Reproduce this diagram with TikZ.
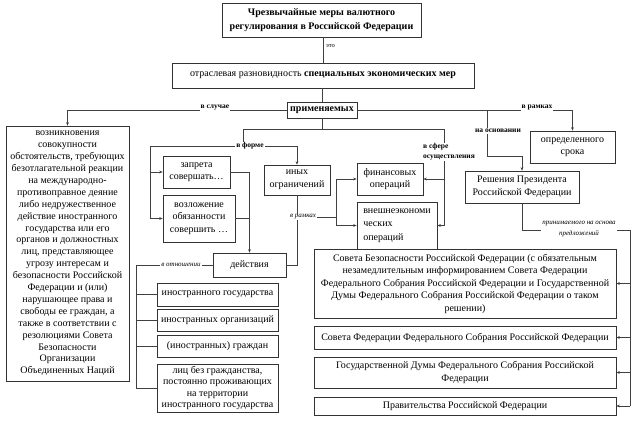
\documentclass[tikz,border=0pt]{standalone}
\usepackage{fontspec}
\setmainfont{Liberation Serif}
\usetikzlibrary{arrows.meta}
\begin{document}
\begin{tikzpicture}[x=1pt,y=-1pt,
  box/.style={draw=black!80, line width=0.6pt, inner sep=1pt, align=center, font=\fontsize{10}{12.5}\selectfont},
  conn/.style={draw=black!75, line width=0.6pt},
  arr/.style={conn, -{Stealth[length=3.5pt,width=2.8pt]}},
  lbl/.style={fill=white, inner sep=1pt, font=\fontsize{7.5}{10}\selectfont\bfseries},
  ilbl/.style={fill=white, inner sep=1pt, font=\fontsize{7}{11.5}\selectfont\itshape},
]
\useasboundingbox (0,0) rectangle (637,426);

% boxes
\node[box, font=\fontsize{10}{14}\selectfont\bfseries, minimum width=199pt, minimum height=34pt] (title) at (321.5,20) {Чрезвычайные меры валютного\\регулирования в Российской Федерации};
\node[box, minimum width=302pt, minimum height=25pt] (kind) at (323,75.5) {отраслевая разновидность \textbf{специальных экономических мер}};
\node[box, font=\fontsize{10}{12}\selectfont\bfseries, minimum width=70pt, minimum height=16pt] (prim) at (322,110) {применяемых};
\node[box, font=\fontsize{10}{11.9}\selectfont, minimum width=123pt, minimum height=255pt] (cond) at (67.5,253.5) {возникновения\\совокупности\\обстоятельств, требующих\\безотлагательной реакции\\на международно-\\противоправное деяние\\либо недружественное\\действие иностранного\\государства или его\\органов и должностных\\лиц, представляющее\\угрозу интересам и\\безопасности Российской\\Федерации и (или)\\нарушающее права и\\свободы ее граждан, а\\также в соответствии с\\резолюциями Совета\\Безопасности\\Организации\\Объединенных Наций};
\node[box, minimum width=67pt, minimum height=32pt] (zapr) at (196.5,172) {запрета\\совершать…};
\node[box, minimum width=72pt, minimum height=47pt] (vozl) at (199,218.5) {возложение\\обязанности\\совершить …};
\node[box, minimum width=66pt, minimum height=30pt] (inykh) at (297,180) {иных\\ограничений};
\node[box, minimum width=73pt, minimum height=24pt] (deistv) at (249.5,265) {действия};
\node[box, minimum width=66pt, minimum height=32pt] (fin) at (390,179) {финансовых\\операций};
\node[box, font=\fontsize{10}{13.5}\selectfont, align=left, minimum width=80pt, minimum height=47pt] (vnesh) at (397,225.5) {внешнеэкономи\\ческих\\операций};
\node[box, minimum width=85pt, minimum height=32pt] (srok) at (572.5,147) {определенного\\срока};
\node[box, minimum width=114pt, minimum height=32pt] (presid) at (522,187) {Решения Президента\\Российской Федерации};
\node[box, minimum width=302pt, minimum height=69pt] (sb) at (465,283.5) {Совета Безопасности Российской Федерации (с обязательным\\незамедлительным информированием Совета Федерации\\Федерального Собрания Российской Федерации и Государственной\\Думы Федерального Собрания Российской Федерации о таком\\решении)};
\node[box, minimum width=302pt, minimum height=23pt] (sf) at (465,337.5) {Совета Федерации Федерального Собрания Российской Федерации};
\node[box, minimum width=302pt, minimum height=31pt] (gd) at (465,372.5) {Государственной Думы Федерального Собрания Российской\\Федерации};
\node[box, minimum width=302pt, minimum height=18pt] (prav) at (465,406) {Правительства Российской Федерации};
\node[box, minimum width=121pt, minimum height=23pt] (ig) at (217.5,294.5) {иностранного государства};
\node[box, minimum width=121pt, minimum height=22pt] (io) at (217.5,320) {иностранных организаций};
\node[box, minimum width=121pt, minimum height=22pt] (gr) at (217.5,346) {(иностранных) граждан};
\node[box, font=\fontsize{10}{11.5}\selectfont, minimum width=121pt, minimum height=48pt] (lbg) at (217.5,388) {лиц без гражданства,\\постоянно проживающих\\на территории\\иностранного государства};

% coordinates
\coordinate (jOsn) at (487,110);
\coordinate (jOsn2) at (487,156);
\coordinate (hL) at (243,129);
\coordinate (hR) at (444,129);
\coordinate (fL) at (150,146);
\coordinate (rB) at (336,217);
\coordinate (oL) at (136,265);
\coordinate (pR) at (630,230);

% connectors
\draw[conn] (title.south -| kind.north) -- (kind.north);
\draw[conn] (prim.north |- kind.south) -- (prim.north);
\draw[arr] (prim.west) -- (prim.west -| cond.north) -- (cond.north);
\draw[arr] (prim.east) -- (prim.east -| srok.north) -- (srok.north);
\draw[arr] (jOsn) -- (jOsn2) -- (jOsn2 -| presid.north) -- (presid.north);

\draw[conn] (prim.south) -- (prim.south |- hR);
\draw[conn] (hL) -- (hR);
\draw[arr] (hR) -- (hR |- vnesh.east) -- (vnesh.east);
\draw[arr] (hR |- fin.east) -- (fin.east);

\draw[conn] (hL) -- (hL |- fL);
\draw[arr] (fL) -- (fL -| inykh.north) -- (inykh.north);
\draw[conn] (fL) -- (fL |- vozl.west);
\draw[arr] (fL |- zapr.west) -- (zapr.west);
\draw[arr] (fL |- vozl.west) -- (vozl.west);

\draw[arr] (zapr.east) -- (zapr.east -| deistv.north) -- (deistv.north);
\draw[conn] (vozl.east) -- (vozl.east -| deistv.north);

\draw[conn] (inykh.south) -- (inykh.south |- deistv.east) -- (deistv.east);
\draw[conn] (inykh.south |- rB) -- (rB);
\draw[conn] (rB |- fin.west) -- (rB |- vnesh.west);
\draw[arr] (rB |- fin.west) -- (fin.west);
\draw[arr] (rB |- vnesh.west) -- (vnesh.west);

\draw[conn] (deistv.west) -- (oL) -- (oL |- lbg.west);
\draw[conn] (oL |- ig.west) -- (ig.west);
\draw[conn] (oL |- io.west) -- (io.west);
\draw[conn] (oL |- gr.west) -- (gr.west);
\draw[conn] (oL |- lbg.west) -- (lbg.west);

\draw[conn] (presid.south) -- (presid.south |- pR) -- (pR) -- (pR |- prav.east);
\draw[arr] (pR |- sb.east) -- (sb.east);
\draw[arr] (pR |- sf.east) -- (sf.east);
\draw[arr] (pR |- gd.east) -- (gd.east);
\draw[arr] (pR |- prav.east) -- (prav.east);

% labels
\node[font=\fontsize{6.5}{7}\selectfont, anchor=west, inner sep=1pt] (eto) at (325,46) {это};
\node[lbl] (vsl) at (215,108) {в случае};
\node[lbl] (vram) at (537,108) {в рамках};
\node[lbl] (osn) at (498,131) {на основании};
\node[lbl, align=left] (sfera) at (449,152) {в сфере\\осуществления};
\node[lbl] (vforme) at (250,146) {в форме};
\node[ilbl] (vram2) at (303,217) {в рамках};
\node[ilbl] (votn) at (181,265) {в отношении};
\node[ilbl, align=center] (prin) at (579,229) {принимаемого на основа\\предложений};
\end{tikzpicture}
\end{document}
